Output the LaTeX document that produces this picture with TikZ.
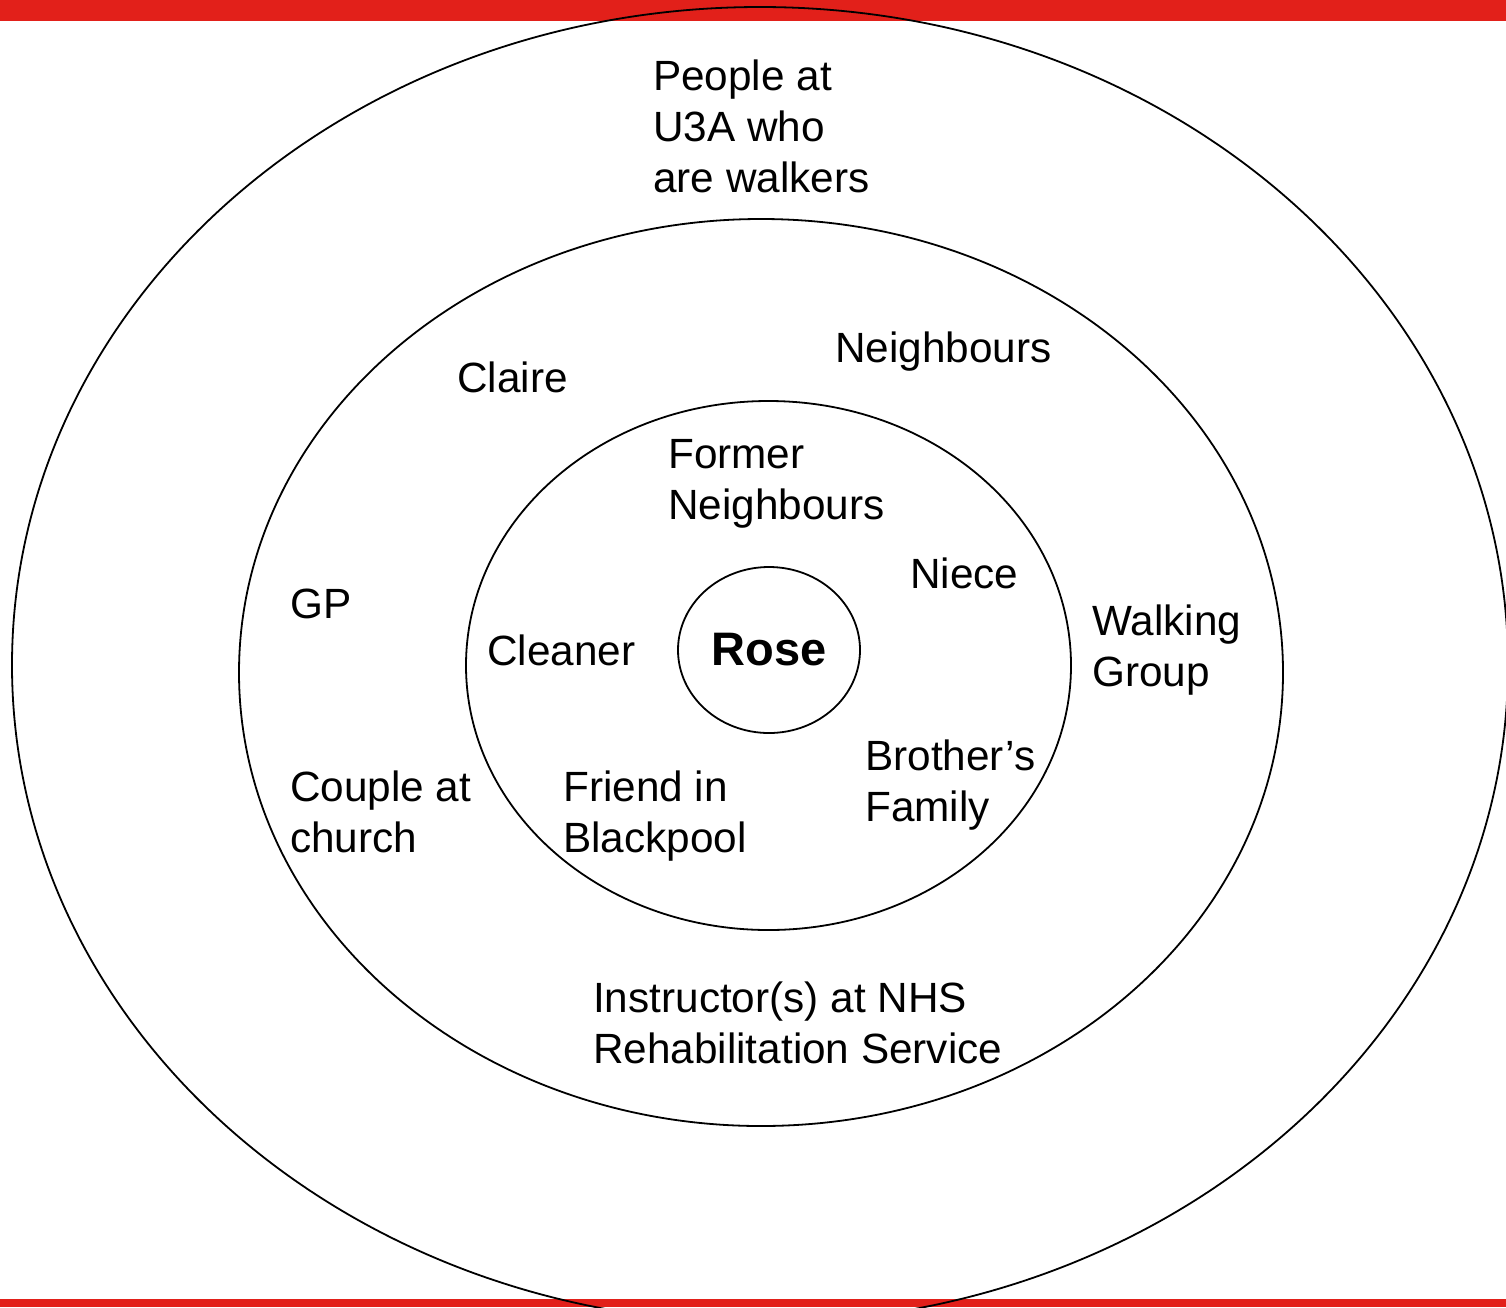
\documentclass[tikz,border=0pt]{standalone}
\usepackage{fontspec}
\setmainfont{Liberation Sans}
\usepackage{tikz}
\usetikzlibrary{shapes.geometric}
\definecolor{BarRed}{HTML}{E2201A}

\tikzset{
  ring/.style={draw=black, line width=1.8pt},
  lbl/.style={anchor=base west, inner sep=0pt, align=left, font=\fontsize{42.3}{51}\selectfont},
}

\begin{document}
\begin{tikzpicture}[x=1pt, y=-1pt]
				\useasboundingbox (0,0) rectangle (1506,1307);

				% red bars
				\fill[BarRed] (0,0) rectangle (1506,21);
				\fill[BarRed] (0,1299) rectangle (1506,1307);

				% circles of contact
				\draw[ring] (760,665) ellipse [x radius=748, y radius=658];
				\draw[ring] (761,672.5) ellipse [x radius=522, y radius=453.5];
				\draw[ring] (768.5,665.5) ellipse [x radius=302.5, y radius=264.5];
				\node[ring, ellipse, minimum width=182pt, minimum height=166pt, inner sep=0pt,
					font=\bfseries\fontsize{47}{56}\selectfont] (rose) at (769,650) {Rose};

				% people (y = baseline of the last line)
				\foreach \name/\x/\y/\txt in {
					u3a/653/192/{People at\\U3A who\\are walkers},
					claire/457/392/{Claire},
					neighbours/835/362/{Neighbours},
					former/668/519/{Former\\Neighbours},
					gp/290/618/{GP},
					cleaner/487/665/{Cleaner},
					niece/910/588/{Niece},
					walking/1092/686/{Walking\\Group},
					couple/290/852/{Couple at\\church},
					friend/563/852/{Friend in\\Blackpool},
					brother/865/821/{Brother’s\\Family},
					nhs/593/1063/{Instructor(s) at NHS\\Rehabilitation Service}%
				}{
					\node[lbl] (\name) at (\x,\y) {\txt};
				}
\end{tikzpicture}
\end{document}
